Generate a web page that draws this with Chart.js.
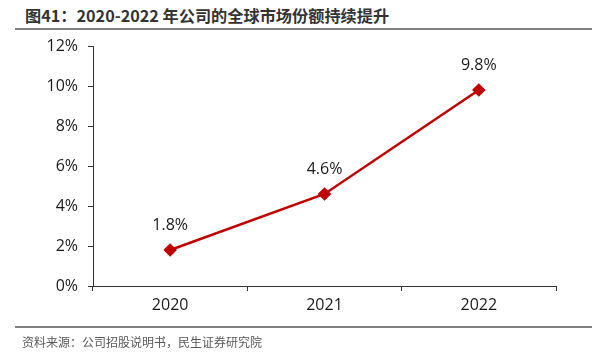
<!DOCTYPE html>
<html>
<head>
<meta charset="utf-8">
<script src="https://cdn.jsdelivr.net/npm/chart.js@4"></script>
<style>
html,body{margin:0;padding:0;background:#fff;width:607px;height:355px;overflow:hidden;}
#wrap{position:relative;width:607px;height:355px;}
#title{position:absolute;left:25px;top:4px;font-family:"Noto Sans CJK SC","Noto Sans",sans-serif;font-weight:bold;font-size:16.2px;color:#333;white-space:nowrap;line-height:22px;}
#tline{position:absolute;left:15px;top:28px;width:577px;height:2px;background:#7f7f7f;}
#bline{position:absolute;left:15px;top:326px;width:577px;height:2px;background:#7f7f7f;}
#source{position:absolute;left:22px;top:333px;font-family:"Noto Sans CJK SC",sans-serif;font-size:12px;color:#595959;white-space:nowrap;line-height:18px;}
canvas{position:absolute;left:0;top:0;}
</style>
</head>
<body>
<div id="wrap">
<div id="title">图41：2020-2022 年公司的全球市场份额持续提升</div>
<div id="tline"></div>
<canvas id="c" width="607" height="355"></canvas>
<div id="bline"></div>
<div id="source">资料来源：公司招股说明书，民生证券研究院</div>
</div>
<script>
const categories = ["2020", "2021", "2022"];
const shareValues = [1.8, 4.6, 9.8];
const yTicks = [0, 2, 4, 6, 8, 10, 12];

const tickFont = {family: "'Open Sans', 'Noto Sans', sans-serif", size: 16};

const labelPlugin = {
  id: 'valueLabels',
  afterDatasetsDraw(chart) {
    const ctx = chart.ctx;
    const meta = chart.getDatasetMeta(0);
    ctx.save();
    ctx.font = "16px 'Open Sans', 'Noto Sans', sans-serif";
    ctx.fillStyle = '#1a1a1a';
    ctx.textAlign = 'center';
    ctx.textBaseline = 'middle';
    meta.data.forEach((pt, i) => {
      ctx.fillText(shareValues[i].toFixed(1) + '%', pt.x, pt.y - 25);
    });
    ctx.restore();
  }
};

new Chart(document.getElementById('c'), {
  type: 'line',
  data: {
    labels: categories,
    datasets: [{
      data: shareValues,
      borderColor: '#C00000',
      backgroundColor: '#C00000',
      borderWidth: 2.5,
      pointStyle: 'rectRot',
      pointRadius: 5,
      pointHoverRadius: 5,
      tension: 0
    }]
  },
  options: {
    responsive: false,
    animation: false,
    events: [],
    layout: {padding: {left: 0, top: 46, right: 51, bottom: 0}},
    plugins: {legend: {display: false}, tooltip: {enabled: false}},
    scales: {
      x: {
        offset: true,
        grid: {offset: true, drawOnChartArea: false, drawTicks: true, tickLength: 5, color: '#333', tickColor: '#333'},
        border: {color: '#333', width: 1},
        ticks: {font: tickFont, color: '#1a1a1a', padding: 5},
        afterFit(s) { s.height = 69; }
      },
      y: {
        min: 0, max: 12,
        afterBuildTicks(s) { s.ticks = yTicks.map(v => ({value: v})); },
        grid: {drawOnChartArea: false, drawTicks: true, tickLength: 5, color: '#333', tickColor: '#333'},
        border: {color: '#333', width: 1},
        ticks: {font: tickFont, color: '#1a1a1a', padding: 10, callback: v => v + '%'},
        afterFit(s) { s.width = 93; }
      }
    }
  },
  plugins: [labelPlugin]
});
</script>
</body>
</html>
